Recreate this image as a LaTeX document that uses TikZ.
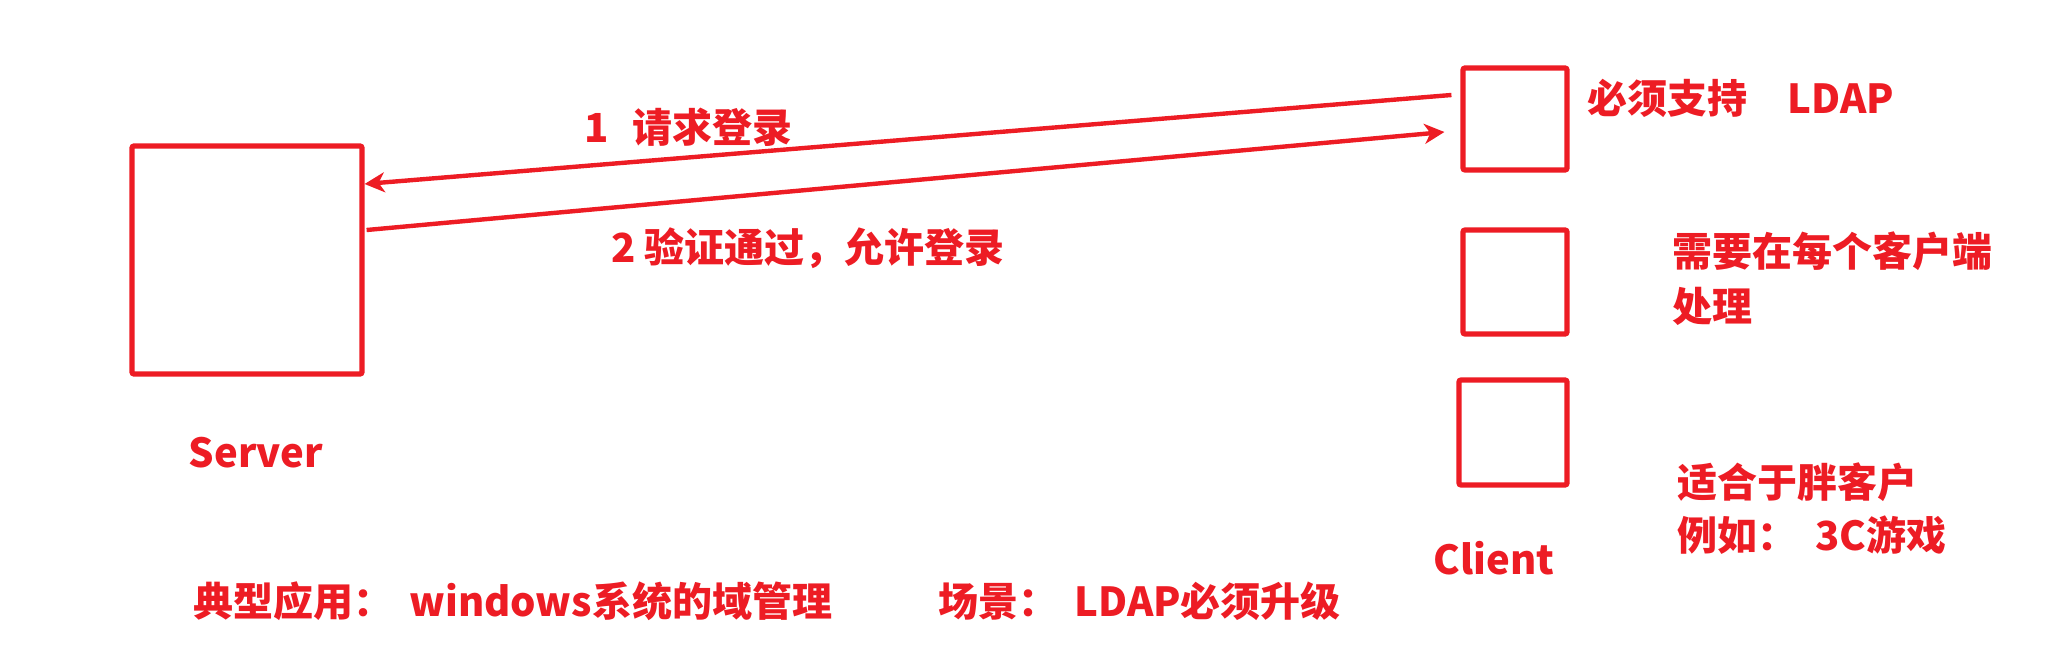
\documentclass[tikz,border=0pt]{standalone}
\usepackage{fontspec}
\setmainfont{Noto Sans CJK SC}
\usetikzlibrary{calc,arrows.meta}
\definecolor{pred}{HTML}{ED1C24}
\begin{document}
\begin{tikzpicture}[x=0.5pt,y=-0.5pt,
  box/.style={draw=pred,line width=2.6pt,rounded corners=1pt,inner sep=0pt},
  arr/.style={draw=pred,line width=2.2pt,-{Stealth[length=10pt,width=10pt,inset=3pt]}},
  lbl/.style={text=pred,inner sep=0pt,font=\bfseries\fontsize{20}{27}\selectfont,align=left}]
\useasboundingbox (0,0) rectangle (2048,651);
% boxes
\node[box,minimum width=115pt,minimum height=114pt] (srv) at (247,260) {};
\node[box,minimum width=52pt,minimum height=51pt] (c1) at (1515,119) {};
\node[box,minimum width=52pt,minimum height=52pt] (c2) at (1515,282) {};
\node[box,minimum width=54pt,minimum height=52.5pt] (c3) at (1513,432.5) {};
% arrows
\coordinate (a1s) at ($(c1.west)+(-9,-24)$);
\coordinate (a1e) at ($(srv.east)+(0,-76)$);
\coordinate (a2s) at ($(srv.east)+(2,-30)$);
\coordinate (a2e) at ($(c1.west)+(-16,13)$);
\draw[arr] (a1s) -- (a1e);
\draw[arr] (a2s) -- (a2e);
% labels
\node[lbl,anchor=west] (l1) at (584,127) {1\hspace{0.6em}请求登录};
\node[lbl,anchor=west] (l2) at (611,248) {2 验证通过，允许登录};
\node[lbl] (srvt) at (256,453) {Server};
\node[lbl] (clt) at (1494,558) {Client};
\node[lbl,anchor=west] (t1) at (1587,98) {必须支持\hspace{1em}LDAP};
\node[lbl,anchor=west,font=\bfseries\fontsize{20}{27.5}\selectfont] (t2) at (1672,278.5) {需要在每个客户端\\处理};
\node[lbl,anchor=west,font=\bfseries\fontsize{20}{26.5}\selectfont] (t3) at (1677,508.5) {适合于胖客户\\例如：\hspace{0.45em}3C游戏};
\node[lbl,anchor=west] (b1) at (193,601) {典型应用：\hspace{0.4em}windows系统的域管理};
\node[lbl,anchor=west] (b2) at (938,601) {场景：\hspace{0.4em}LDAP必须升级};
\end{tikzpicture}
\end{document}
